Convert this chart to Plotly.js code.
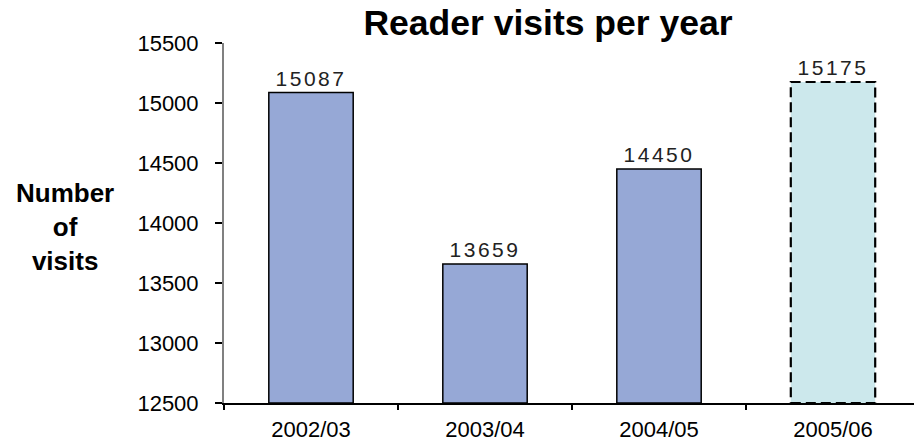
<!DOCTYPE html>
<html>
<head>
<meta charset="utf-8">
<script src="https://cdn.plot.ly/plotly-3.0.1.min.js"></script>
<style>
  html, body { margin: 0; padding: 0; background: #fff; overflow: hidden; }
  #chart { width: 914px; height: 444px; }
  .bartext { letter-spacing: 2.5px; }
</style>
</head>
<body>
<div id="chart"></div>
<script>
// ---- data ----
const years = ['2002/03', '2003/04', '2004/05', '2005/06'];
const reportedYears = ['2002/03', '2003/04', '2004/05'];
const reportedVisits = [15087, 13659, 14450];
const forecastYears = ['2005/06'];
const forecastVisits = [15175];
const yTicks = [12500, 13000, 13500, 14000, 14500, 15000, 15500];
const chartTitle = 'Reader visits per year';
const yTitle = 'Number<br>of<br>visits';

// ---- styles ----
const BAR_W = 0.485;
const BASE = yTicks[0];
const labelFont = { family: 'Liberation Sans, Arial, sans-serif', size: 21, color: '#222' };

const traces = [
  {
    type: 'bar', x: reportedYears, width: BAR_W,
    base: BASE,
    y: reportedVisits.map(v => v - BASE),
    text: reportedVisits.map(String), textposition: 'outside', constraintext: 'none',
    textfont: labelFont, outsidetextfont: labelFont, cliponaxis: false,
    marker: { color: '#96A8D6', line: { color: '#000', width: 1.5 } },
    hoverinfo: 'skip'
  },
  {
    type: 'bar', x: forecastYears, width: BAR_W,
    base: BASE,
    y: forecastVisits.map(v => v - BASE),
    text: forecastVisits.map(String), textposition: 'outside', constraintext: 'none',
    textfont: labelFont, outsidetextfont: labelFont, cliponaxis: false,
    marker: { color: '#CCE8EC', line: { width: 0 } },
    hoverinfo: 'skip'
  }
];

// dashed outline for forecast bar, computed from the data
const shapes = forecastYears.map((yr, i) => {
  const idx = years.indexOf(yr);
  return {
    type: 'rect', xref: 'x', yref: 'y',
    x0: idx - BAR_W / 2, x1: idx + BAR_W / 2,
    y0: BASE, y1: forecastVisits[i],
    line: { color: '#000', width: 2.2, dash: '10px,5px' },
    fillcolor: 'rgba(0,0,0,0)', layer: 'above'
  };
});

const W = 914, H = 444;
const ML = 224, MT = 43, MB = 41;
const CAT_W = 174;
const plotW = W - ML;

const layout = {
  width: W, height: H,
  margin: { l: ML, r: 0, t: MT, b: MB, pad: 0 },
  paper_bgcolor: '#fff', plot_bgcolor: '#fff',
  showlegend: false,
  barmode: 'overlay',
  font: { family: 'Liberation Sans, Arial, sans-serif', color: '#000' },
  title: {
    text: '<b>' + chartTitle + '</b>',
    font: { family: 'Liberation Sans, Arial, sans-serif', size: 35.5, color: '#000' },
    xref: 'container', yref: 'container',
    x: 548 / W, xanchor: 'center',
    y: 1 - 23 / H, yanchor: 'middle'
  },
  xaxis: {
    type: 'category', categoryorder: 'array', categoryarray: years,
    range: [-0.5, -0.5 + plotW / CAT_W],
    showline: true, linecolor: '#000', linewidth: 1.5,
    ticks: 'outside', tickson: 'boundaries', ticklen: 5, tickwidth: 1.2, tickcolor: '#000',
    tickfont: { family: 'Liberation Sans, Arial, sans-serif', size: 22, color: '#000' },
    ticklabelstandoff: 6,
    showgrid: false, zeroline: false, fixedrange: true
  },
  yaxis: {
    range: [yTicks[0], yTicks[yTicks.length - 1]],
    tickvals: yTicks, ticktext: yTicks.map(String),
    showline: true, linecolor: '#808080', linewidth: 2,
    ticks: 'outside', ticklen: 7, tickwidth: 1.5, tickcolor: '#000',
    tickfont: { family: 'Liberation Sans, Arial, sans-serif', size: 22, color: '#000' },
    ticklabelstandoff: 12,
    showgrid: false, zeroline: false, fixedrange: true
  },
  shapes: shapes,
  annotations: [{
    text: '<b>' + yTitle + '</b>',
    xref: 'paper', yref: 'paper',
    x: (65 - ML) / plotW, y: 0.488,
    xanchor: 'center', yanchor: 'middle',
    showarrow: false, align: 'center',
    font: { family: 'Liberation Sans, Arial, sans-serif', size: 26, color: '#000' }
  }]
};

Plotly.newPlot('chart', traces, layout, { displayModeBar: false, staticPlot: true });
</script>
</body>
</html>
